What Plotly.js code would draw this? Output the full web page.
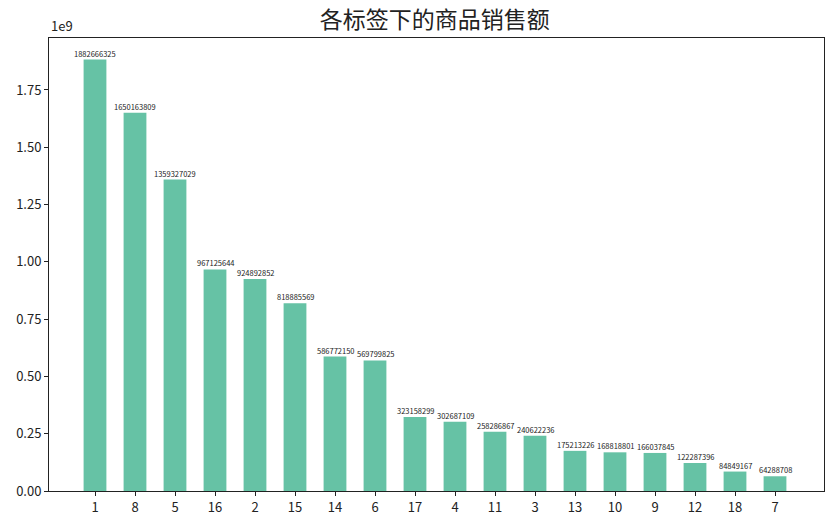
<!DOCTYPE html>
<html>
<head>
<meta charset="utf-8">
<script src="https://cdn.plot.ly/plotly-3.0.1.min.js"></script>
<style>html,body{margin:0;padding:0;background:#fff;}#chart{width:836px;height:523px;}</style>
</head>
<body>
<div id="chart"></div>
<script>
const tags = ['1','8','5','16','2','15','14','6','17','4','11','3','13','10','9','12','18','7'];
const sales = [1882666325,1650163809,1359327029,967125644,924892852,818885569,586772150,569799825,323158299,302687109,258286867,240622236,175213226,168818801,166037845,122287396,84849167,64288708];

const font = "'Noto Sans CJK SC', 'Noto Sans', sans-serif";
const ymax = Math.max(...sales) * 1.05;

const trace = {
  type: 'bar',
  x: tags,
  y: sales,
  width: 0.57,
  marker: {color: '#66c2a5', line: {width: 0}},
  hoverinfo: 'x+y'
};

// category axis: annotation x is given as the category index
const labelAnnotations = tags.map((t, i) => ({
  x: i, y: sales[i], xref: 'x', yref: 'y',
  text: String(sales[i]), showarrow: false,
  xanchor: 'center', yanchor: 'bottom', yshift: -1,
  font: {family: font, size: 7.5, color: '#222'}
}));

const layout = {
  width: 836, height: 523,
  margin: {l: 49, r: 12, t: 38, b: 32, pad: 0},
  paper_bgcolor: '#fff', plot_bgcolor: '#fff',
  showlegend: false,
  title: {text: '各标签下的商品销售额', font: {family: font, size: 23, color: '#222'}, x: 0.52, xanchor: 'center', y: 0.962, yanchor: 'middle'},
  font: {family: font, color: '#222'},
  xaxis: {
    type: 'category',
    range: [-1.15, 18.225],
    showline: true, mirror: true, linecolor: '#222', linewidth: 1,
    ticks: 'outside', ticklen: 4, tickcolor: '#222', tickwidth: 1,
    tickfont: {family: font, size: 13, color: '#222'},
    showgrid: false, zeroline: false
  },
  yaxis: {
    range: [0, ymax],
    tickvals: [0, 0.25e9, 0.5e9, 0.75e9, 1e9, 1.25e9, 1.5e9, 1.75e9],
    ticktext: ['0.00','0.25','0.50','0.75','1.00','1.25','1.50','1.75'],
    showline: true, mirror: true, linecolor: '#222', linewidth: 1,
    ticks: 'outside', ticklen: 4, tickcolor: '#222', tickwidth: 1,
    tickfont: {family: font, size: 13, color: '#222'},
    showgrid: false, zeroline: false
  },
  annotations: [{
    text: '1e9', xref: 'paper', yref: 'paper', x: 0, y: 1, xanchor: 'left', yanchor: 'bottom',
    yshift: 1, showarrow: false, font: {family: font, size: 13, color: '#222'}
  }].concat(labelAnnotations)
};

Plotly.newPlot('chart', [trace], layout, {displayModeBar: false, staticPlot: true});
</script>
</body>
</html>
